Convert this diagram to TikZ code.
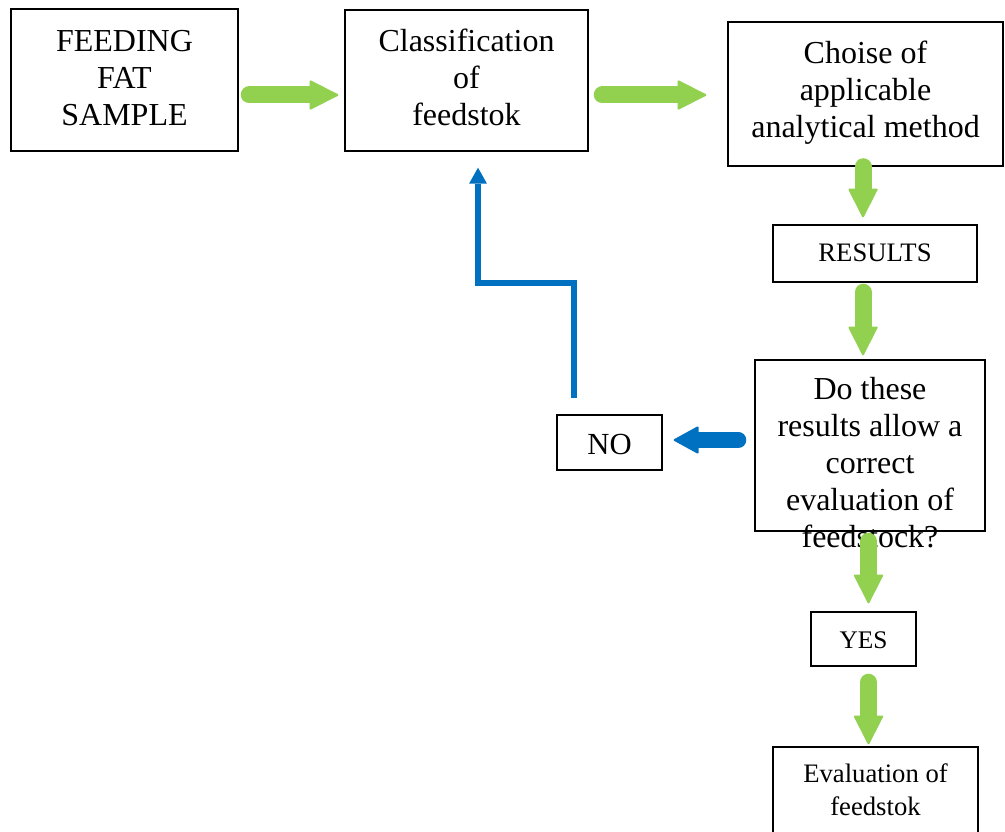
\documentclass[tikz,border=0pt]{standalone}
\usepackage{fontspec}
\setmainfont{Liberation Serif}
\usetikzlibrary{arrows.meta}
\definecolor{leaf}{HTML}{92D050}
\definecolor{sea}{HTML}{0070C0}
\begin{document}
\begin{tikzpicture}[x=0.75pt,y=-0.75pt,
  box/.style={draw=black, line width=1.1pt, fill=white, inner sep=0pt},
  lbl/.style={inner sep=0pt, align=center,
    execute at begin node=\strut, execute at end node=\strut},
  bigtext/.style={lbl, font=\fontsize{24}{27.75}\selectfont},
  smalltext/.style={lbl, font=\fontsize{20}{24.75}\selectfont},
  garrow/.style={leaf, line width=12.75pt, line cap=round,
    -{Triangle[width=22.5pt, length=22.5pt, line width=1.5pt, round]}},
  barrow/.style={sea, line width=12pt, line cap=round,
    -{Triangle[width=21pt, length=19.5pt, line width=1.5pt, round]}},
  bline/.style={sea, line width=4.5pt,
    -{Triangle[width=13.5pt, length=12pt, line width=0pt]}},
]
\useasboundingbox (0,0) rectangle (1005,831);
\fill[white] (0,0) rectangle (1005,831);

% process boxes
\node[box, minimum width=170.25pt, minimum height=106.5pt] (b1) at (124.5,80) {};
\node[box, minimum width=182.25pt, minimum height=105.75pt] (b2) at (466.5,80.5) {};
\node[box, minimum width=206.25pt, minimum height=108pt] (b3) at (865.5,94) {};
\node[box, minimum width=153pt, minimum height=42.75pt] (bres) at (875,253.5) {};
\node[box, minimum width=172.5pt, minimum height=128.25pt] (bq) at (870,445.5) {};
\node[box, minimum width=78.75pt, minimum height=41.25pt] (bno) at (609.5,442.5) {};
\node[box, minimum width=78.75pt, minimum height=40.5pt] (byes) at (863.5,639) {};
\node[box, minimum width=153.75pt, minimum height=67.5pt] (beval) at (875.5,792) {};

% box texts
\node[bigtext] (t1) at ([yshift=-2.25pt]b1.center) {FEEDING\\FAT\\SAMPLE};
\node[bigtext] (t2) at ([yshift=-1.5pt]b2.center) {Classification\\of\\feedstok};
\node[bigtext] (t3) at ([yshift=-0.75pt]b3.center) {Choise of\\applicable\\analytical method};
\node[smalltext] (tres) at ([yshift=-0.75pt]bres.center) {RESULTS};
\node[bigtext] (tq) at ([yshift=-16.9pt]bq.center)
  {Do these\\results allow a\\correct\\evaluation of\\feedstock?};
\node[lbl, font=\fontsize{23}{27}\selectfont] (tno) at ([yshift=-3.75pt]bno.center) {NO};
\node[lbl, font=\fontsize{19}{24}\selectfont] (tyes) at ([yshift=-2.25pt]byes.center) {YES};
\node[smalltext] (teval) at ([yshift=-2.25pt]beval.center) {Evaluation of\\feedstok};

% rows and columns the block arrows run along
\coordinate (rowtop) at (0,95);
\coordinate (rowno) at (0,440);
\coordinate (colup) at (863,0);
\coordinate (coldown) at (868.5,0);
\coordinate (nostart) at (574,398);
\coordinate (turn) at (478,283);

% green flow arrows
\draw[garrow, shorten <=7.875pt, shorten >=4.5pt] (b1.east |- rowtop) -- (b2.west |- rowtop);
\draw[garrow, shorten <=10.125pt, shorten >=15.75pt] (b2.east |- rowtop) -- (b3.west |- rowtop);
\draw[garrow, shorten <=0pt, shorten >=5.25pt] (b3.south -| colup) -- (bres.north -| colup);
\draw[garrow, shorten <=7.125pt, shorten >=3pt] (bres.south -| colup) -- (bq.north -| colup);
\draw[garrow, shorten <=7.125pt, shorten >=6pt] (bq.south -| coldown) -- (byes.north -| coldown);
\draw[garrow, shorten <=11.625pt, shorten >=1.5pt] (byes.south -| coldown) -- (beval.north -| coldown);

% the "no" branch
\draw[barrow, shorten <=12pt, shorten >=8.25pt] (bq.west |- rowno) -- (bno.east |- rowno);
\draw[bline, shorten >=12pt] (nostart) |- (turn) -- (turn |- b2.south);
\end{tikzpicture}
\end{document}
